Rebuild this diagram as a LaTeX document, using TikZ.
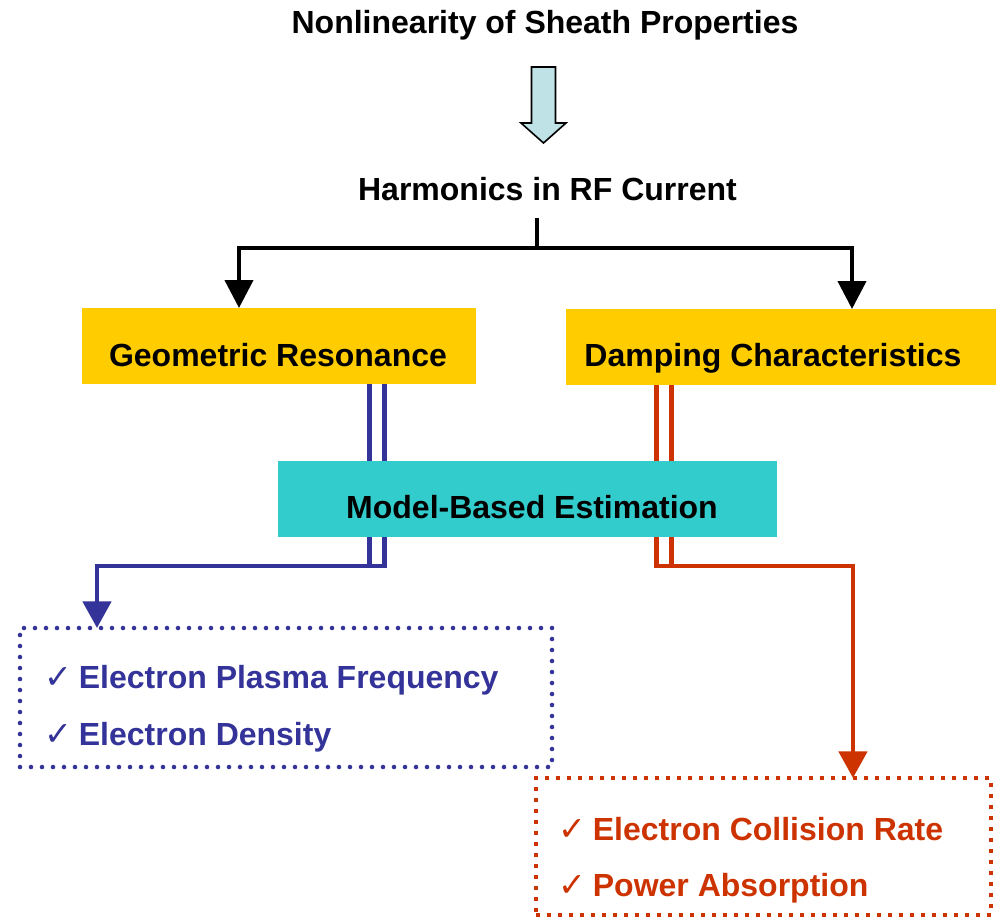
\documentclass[tikz,border=0pt]{standalone}
\usepackage{fontspec}
\setmainfont{Liberation Sans}
\newfontfamily\checkfont{DejaVu Sans}
\usetikzlibrary{positioning,calc,arrows.meta}
\definecolor{SheathYellow}{HTML}{FFCC00}
\definecolor{SheathTeal}{HTML}{33CCCC}
\definecolor{SheathBlue}{HTML}{333399}
\definecolor{SheathRed}{HTML}{CC3300}
\definecolor{SheathIce}{HTML}{BFE2E6}
\newcommand{\chkmark}{{\checkfont\mdseries\fontsize{25}{25}\selectfont ✓}\hspace{5pt}}

\begin{document}
\begin{tikzpicture}[x=0.75pt, y=-0.75pt,
  font=\fontsize{24}{28}\selectfont\bfseries,
  caption/.style={anchor=base, inner sep=0pt},
  item/.style={anchor=base west, inner sep=0pt},
  plate/.style={inner sep=0pt, outer sep=0pt, minimum height=57pt},
  fork/.style={line width=3.2pt, line join=miter},
  forkarrow/.style={fork, -{Triangle[width=21pt,length=21pt]}},
  pipe/.style={line width=3.6pt, line join=miter},
  pipearrow/.style={pipe, -{Triangle[width=21pt,length=20pt]}},
  dotbox/.style={inner sep=0pt, outer sep=0pt}]
  \useasboundingbox (0,0) rectangle (996,917);
  % headline with block arrow
  \node[caption] (sheath) at (545,34) {Nonlinearity of Sheath Properties};
  \node[caption] (harm) at (547.5,200) {Harmonics in RF Current};
  \draw[fill=SheathIce, line width=1.2pt, line join=miter]
    (531.5,67) -- (555.5,67) -- (555.5,123) -- (566,123) -- (543.5,143)
    -- (521,123) -- (531.5,123) -- cycle;
  % the two branches
  \node[plate, fill=SheathYellow, minimum width=295.5pt] (geo) at (279,346) {};
  \node[caption] at (278,366) {Geometric Resonance};
  \node[plate, fill=SheathYellow, minimum width=322.5pt] (damp) at (781,347) {};
  \node[caption] at (773,366) {Damping Characteristics};
  \coordinate (stem) at (537,218);
  \coordinate (split) at (537,248);
  \draw[fork] (stem) -- (split);
  \draw[forkarrow] (split) -| ([xshift=-30pt]geo.north);
  \draw[forkarrow] (split) -| ([xshift=53.25pt]damp.north);
  % result boxes
  \node[dotbox, draw=SheathBlue, line width=3.4pt, line cap=round,
    dash pattern=on 0pt off 8.25pt, minimum width=399pt, minimum height=104.25pt]
    (plasma) at (286,697.5) {};
  \node[item, text=SheathBlue] (fpe) at (44,688) {\chkmark Electron Plasma Frequency};
  \node[item, text=SheathBlue] (ne) at (44,745) {\chkmark Electron Density};
  \node[dotbox, draw=SheathRed, line width=3pt,
    dash pattern=on 3pt off 5.25pt, minimum width=341.25pt, minimum height=102.75pt]
    (coll) at (763.5,846.5) {};
  \node[item, text=SheathRed] (nu) at (558,840) {\chkmark Electron Collision Rate};
  \node[item, text=SheathRed] (pabs) at (558,896) {\chkmark Power Absorption};
  % double pipes, passing under the estimation plate
  \draw[pipe, SheathBlue] ([xshift=67.9pt]geo.south) -- ++(0,182);
  \draw[pipearrow, SheathBlue] ([xshift=79.1pt]geo.south) -- ++(0,182)
    -| ([xshift=-141.75pt]plasma.north);
  \draw[pipe, SheathRed] ([xshift=-82.1pt]damp.south) -- ++(0,181);
  \draw[pipearrow, SheathRed] ([xshift=-93.4pt]damp.south) -- ++(0,181)
    -| ([xshift=67.1pt]coll.north);
  \node[plate, fill=SheathTeal, minimum width=374.25pt] (model) at (527.5,499) {};
  \node[caption] at (532,518) {Model-Based Estimation};
\end{tikzpicture}
\end{document}
